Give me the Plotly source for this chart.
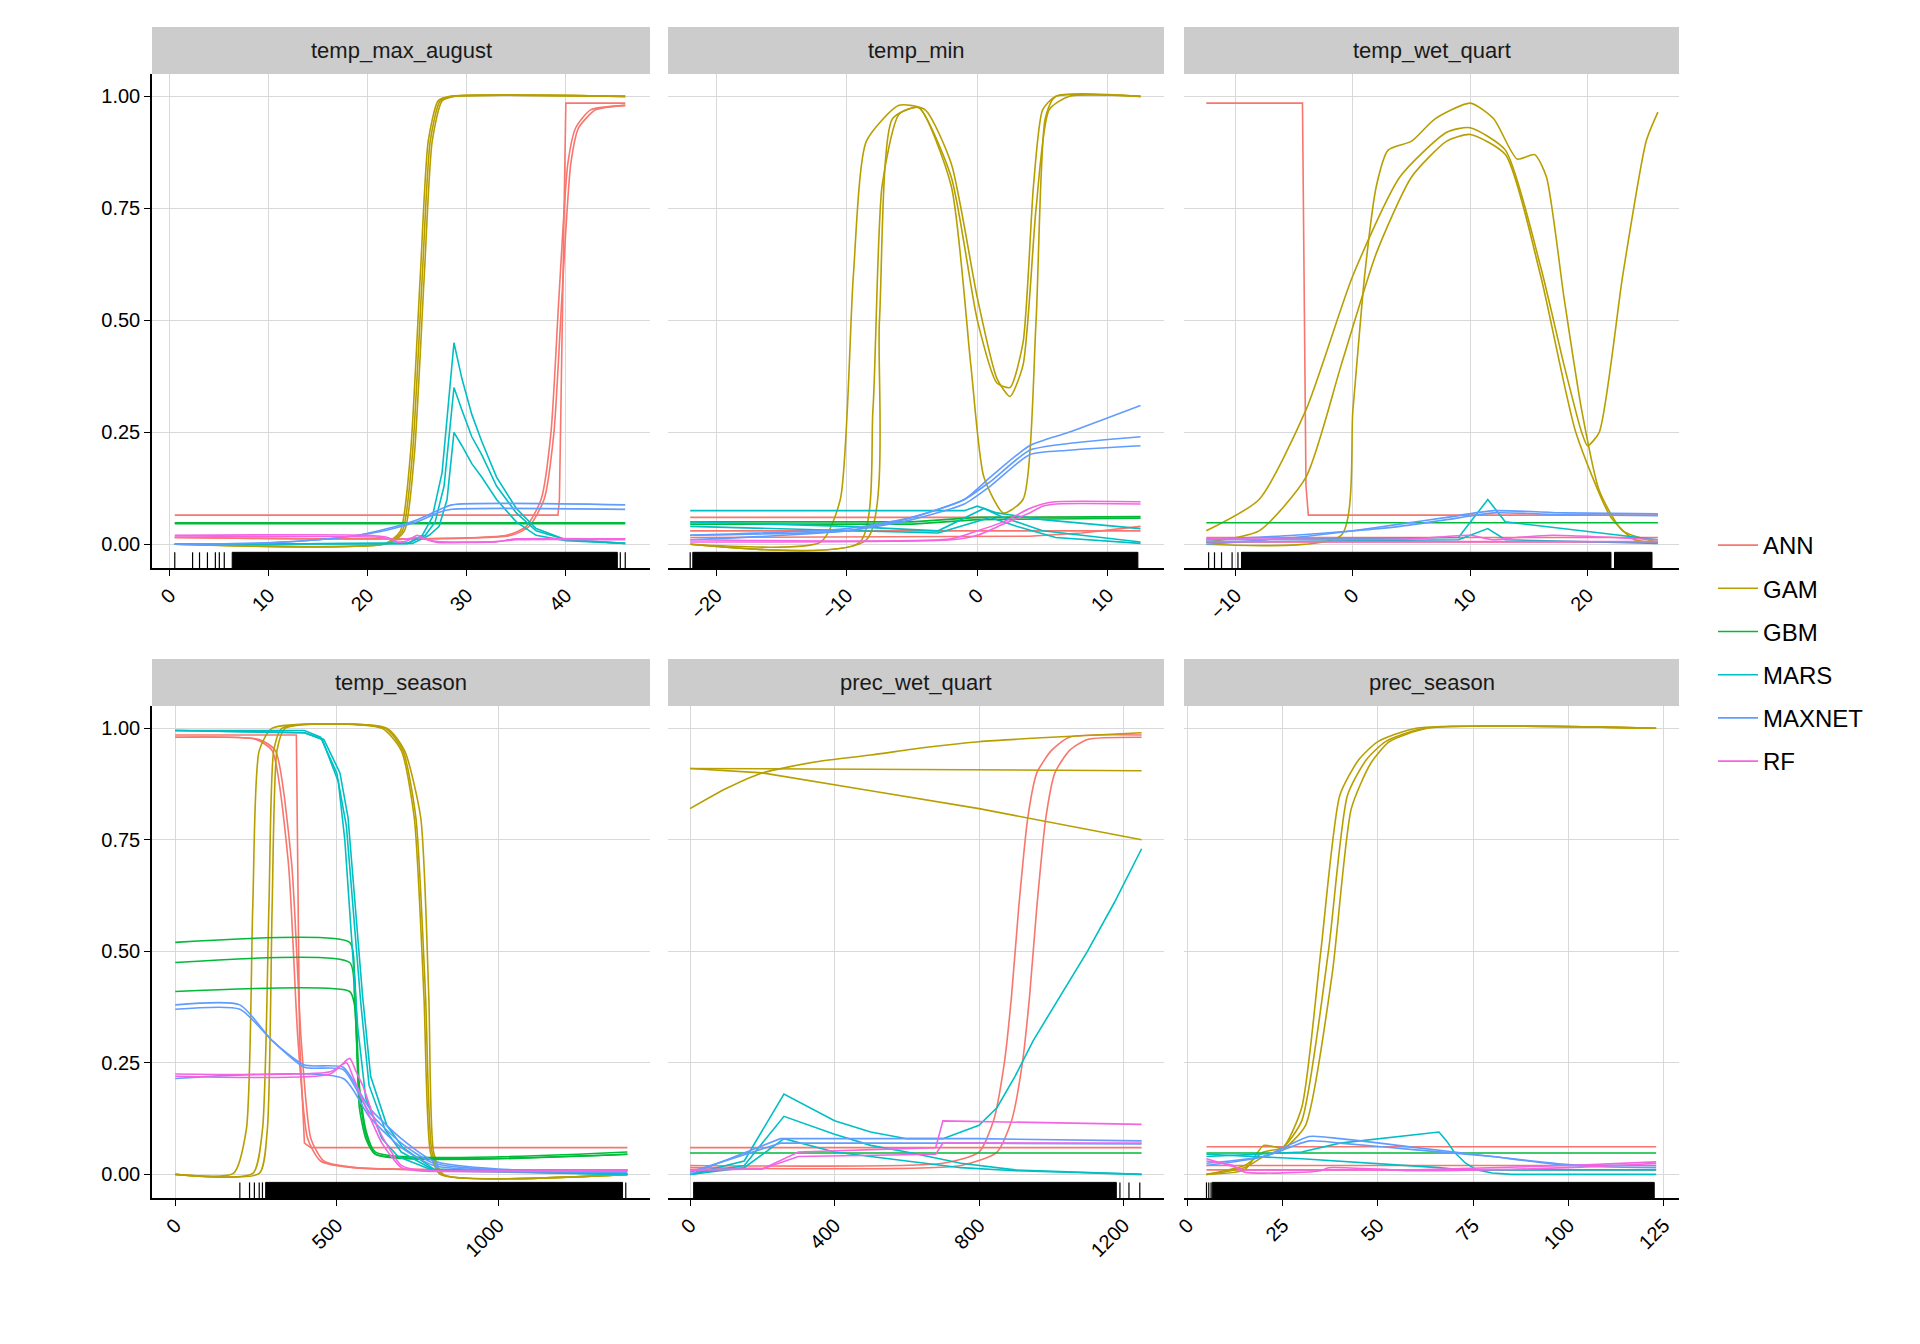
import plotly.graph_objects as go

# model colours (ggplot hue palette)
models = ["ANN", "GAM", "GBM", "MARS", "MAXNET", "RF"]
colors = ["#F8766D", "#B79F00", "#00BA38", "#00BFC4", "#619CFF", "#F564E3"]

panel_titles = ["temp_max_august", "temp_min", "temp_wet_quart",
                "temp_season", "prec_wet_quart", "prec_season"]

# each curve: (model, x, y)
temp_max_august = [
    ("ANN", [0.5, 39.2, 39.35, 40, 46], [0.065, 0.065, 0.1, 0.985, 0.985]),
    ("ANN", [0.5, 34, 36, 37.5, 38.5, 39.3, 40.2, 41, 42.5, 46], [0.015, 0.02, 0.04, 0.1, 0.25, 0.55, 0.85, 0.93, 0.97, 0.98]),
    ("ANN", [0.5, 34.5, 36.3, 37.8, 38.8, 39.6, 40.5, 41.3, 43, 46], [0.015, 0.02, 0.04, 0.1, 0.25, 0.55, 0.85, 0.93, 0.97, 0.98]),
    ("GAM", [0.5, 22, 23.5, 24.5, 25.5, 26.3, 27.3, 28.5, 46], [0, 0.002, 0.03, 0.2, 0.6, 0.9, 0.99, 1, 1]),
    ("GAM", [0.5, 22.2, 23.7, 24.7, 25.7, 26.5, 27.5, 28.7, 46], [0, 0.002, 0.03, 0.2, 0.6, 0.9, 0.99, 1, 1]),
    ("GAM", [0.5, 21.8, 23.3, 24.3, 25.3, 26.1, 27.1, 28.3, 46], [0, 0.002, 0.03, 0.2, 0.6, 0.9, 0.99, 1, 1]),
    ("GBM", [0.5, 46], [0.048, 0.048]),
    ("GBM", [0.5, 46], [0.046, 0.046]),
    ("MARS", [0.5, 24, 25.5, 26.5, 27.5, 28.7, 29.5, 30.5, 31.5, 33, 35, 37, 40, 46], [0, 0.002, 0.02, 0.06, 0.16, 0.45, 0.37, 0.29, 0.23, 0.15, 0.08, 0.035, 0.01, 0.002]),
    ("MARS", [0.5, 24, 25.8, 26.8, 27.7, 28.7, 29.5, 30.5, 31.5, 33, 35, 37, 40, 46], [0, 0.002, 0.02, 0.05, 0.13, 0.35, 0.3, 0.24, 0.2, 0.13, 0.07, 0.03, 0.01, 0.002]),
    ("MARS", [0.5, 24.5, 26.2, 27.2, 28, 28.7, 29.5, 30.5, 31.5, 33, 35, 37, 40, 46], [0, 0.002, 0.02, 0.04, 0.1, 0.25, 0.22, 0.18, 0.15, 0.1, 0.05, 0.02, 0.008, 0.002]),
    ("MAXNET", [0.5, 10, 15, 19, 22, 25, 27, 28.5, 46], [0, 0.003, 0.01, 0.02, 0.035, 0.055, 0.075, 0.088, 0.088]),
    ("MAXNET", [0.5, 10, 15, 19, 22, 25, 27, 28.5, 46], [0, 0.003, 0.01, 0.02, 0.032, 0.05, 0.07, 0.078, 0.078]),
    ("RF", [0.5, 20, 22, 23, 24, 25, 26, 27, 30, 33, 35, 46], [0.02, 0.02, 0.015, 0.005, 0.008, 0.02, 0.01, 0.004, 0.004, 0.006, 0.012, 0.012]),
    ("RF", [0.5, 21, 23, 25, 27, 33, 35, 46], [0.016, 0.016, 0.01, 0.015, 0.006, 0.006, 0.01, 0.01]),
]

temp_min = [
    ("ANN", [-22, 12.5], [0.06, 0.06]),
    ("ANN", [-22, 4, 8, 12.5], [0.015, 0.018, 0.025, 0.04]),
    ("ANN", [-22, 12.5], [0.03, 0.03]),
    ("GAM", [-22, -12, -10.5, -9.5, -8.5, -6, -4, -2, 0, 1.5, 2.5, 3.5, 4.5, 5.5, 7, 12.5],
     [0, 0.005, 0.1, 0.6, 0.9, 0.98, 0.97, 0.85, 0.55, 0.37, 0.33, 0.4, 0.75, 0.97, 1, 1]),
    ("GAM", [-22, -9, -8, -7.3, -6, -4.5, -2, 0, 1.5, 2.5, 3.5, 4.3, 5, 6, 12.5],
     [0, 0.005, 0.3, 0.8, 0.96, 0.975, 0.82, 0.5, 0.36, 0.35, 0.45, 0.8, 0.97, 1, 1]),
    ("GAM", [-22, -8.5, -7.5, -6.5, -4.5, -2, -0.5, 0.5, 2, 3.5, 4.5, 5.2, 6, 12.5],
     [0, 0.01, 0.5, 0.95, 0.975, 0.8, 0.4, 0.15, 0.07, 0.1, 0.5, 0.95, 1, 1]),
    ("GBM", [-22, -5, 0, 12.5], [0.05, 0.05, 0.06, 0.062]),
    ("GBM", [-22, -5, 0, 12.5], [0.045, 0.045, 0.055, 0.058]),
    ("MARS", [-22, -1, 0, 1.5, 5, 12.5], [0.075, 0.075, 0.085, 0.07, 0.055, 0.035]),
    ("MARS", [-22, -10, -3, 0.5, 2, 5, 12.5], [0.05, 0.04, 0.03, 0.08, 0.06, 0.03, 0.005]),
    ("MARS", [-22, -10, -3, 1, 3, 6, 12.5], [0.04, 0.03, 0.025, 0.06, 0.04, 0.015, 0.002]),
    ("MAXNET", [-22, -10, -5, -1, 1, 4, 7, 12.5], [0.01, 0.03, 0.06, 0.1, 0.15, 0.22, 0.25, 0.31]),
    ("MAXNET", [-22, -10, -5, -1, 1, 4, 7, 12.5], [0.02, 0.035, 0.06, 0.1, 0.14, 0.21, 0.225, 0.24]),
    ("MAXNET", [-22, -10, -5, -1, 1, 4, 7, 12.5], [0.02, 0.03, 0.055, 0.09, 0.13, 0.2, 0.21, 0.22]),
    ("RF", [-22, -2, 0, 2, 4, 5, 6, 12.5], [0.01, 0.012, 0.03, 0.05, 0.08, 0.09, 0.095, 0.095]),
    ("RF", [-22, -2, 0, 2, 4, 5, 6, 12.5], [0.005, 0.01, 0.02, 0.045, 0.07, 0.085, 0.09, 0.09]),
]

temp_wet_quart = [
    ("ANN", [-12.5, -4.3, -4.0, -3.8, 26], [0.985, 0.985, 0.13, 0.065, 0.065]),
    ("ANN", [-12.5, 26], [0.015, 0.015]),
    ("ANN", [-12.5, 26], [0.005, 0.005]),
    ("GAM", [-12.5, -8, -4, 0, 4, 8, 10, 13, 16, 18, 19.5, 20, 21, 23, 25, 26],
     [0.03, 0.1, 0.3, 0.6, 0.82, 0.92, 0.93, 0.88, 0.62, 0.4, 0.25, 0.22, 0.25, 0.6, 0.9, 0.965]),
    ("GAM", [-12.5, -8, -4, -1, 2, 5, 8, 10, 13, 16, 19, 22, 24, 26],
     [0.005, 0.03, 0.15, 0.4, 0.65, 0.82, 0.9, 0.915, 0.87, 0.6, 0.25, 0.06, 0.01, 0.005]),
    ("GAM", [-12.5, -1, 0, 1, 2, 3, 5, 7, 10, 12, 14, 15.5, 16.5, 18, 19.5, 21, 23, 26],
     [0, 0.02, 0.3, 0.6, 0.8, 0.88, 0.9, 0.95, 0.985, 0.95, 0.86, 0.87, 0.82, 0.55, 0.3, 0.12, 0.03, 0.005]),
    ("GBM", [-12.5, 26], [0.048, 0.048]),
    ("MARS", [-12.5, 9, 11.5, 13, 26], [0.01, 0.015, 0.1, 0.05, 0.01]),
    ("MARS", [-12.5, 9, 11.5, 13, 26], [0.005, 0.01, 0.035, 0.01, 0.002]),
    ("MAXNET", [-12.5, -5, 0, 4, 8, 12, 18, 26], [0.0, 0.015, 0.03, 0.045, 0.06, 0.075, 0.07, 0.068]),
    ("MAXNET", [-12.5, -5, 0, 4, 8, 12, 18, 26], [0.01, 0.02, 0.03, 0.04, 0.055, 0.07, 0.066, 0.064]),
    ("RF", [-12.5, 5, 10, 12, 14, 17, 26], [0.012, 0.012, 0.02, 0.01, 0.015, 0.02, 0.01]),
    ("RF", [-12.5, 26], [0.006, 0.006]),
]

temp_season = [
    ("ANN", [0, 375, 385, 400, 420, 1400], [0.985, 0.985, 0.3, 0.07, 0.06, 0.06]),
    ("ANN", [0, 250, 300, 350, 380, 410, 450, 550, 1400], [0.98, 0.975, 0.95, 0.7, 0.3, 0.08, 0.03, 0.015, 0.01]),
    ("ANN", [0, 260, 310, 360, 390, 420, 460, 560, 1400], [0.98, 0.975, 0.95, 0.7, 0.3, 0.08, 0.03, 0.015, 0.01]),
    ("GAM", [0, 180, 220, 240, 260, 300, 640, 700, 740, 770, 790, 820, 1400], [0, 0.002, 0.1, 0.6, 0.95, 1, 1, 0.95, 0.8, 0.4, 0.05, 0, 0]),
    ("GAM", [0, 240, 270, 290, 305, 330, 650, 705, 745, 775, 795, 825, 1400], [0, 0.002, 0.1, 0.6, 0.95, 1, 1, 0.95, 0.8, 0.4, 0.05, 0, 0]),
    ("GAM", [0, 260, 285, 300, 315, 340, 655, 710, 760, 785, 800, 830, 1400], [0, 0.002, 0.1, 0.6, 0.95, 1, 1, 0.95, 0.8, 0.4, 0.05, 0, 0]),
    ("GBM", [0, 540, 555, 570, 590, 620, 1400], [0.52, 0.52, 0.45, 0.2, 0.1, 0.05, 0.05]),
    ("GBM", [0, 540, 555, 570, 590, 620, 1400], [0.475, 0.475, 0.4, 0.18, 0.09, 0.045, 0.045]),
    ("GBM", [0, 540, 555, 570, 590, 620, 1400], [0.41, 0.41, 0.38, 0.15, 0.08, 0.045, 0.045]),
    ("MARS", [0, 400, 450, 500, 530, 550, 575, 600, 650, 700, 800, 1400], [0.995, 0.995, 0.98, 0.9, 0.78, 0.6, 0.38, 0.2, 0.1, 0.05, 0.01, 0]),
    ("MARS", [0, 400, 460, 510, 535, 555, 580, 605, 655, 705, 800, 1400], [0.995, 0.99, 0.975, 0.9, 0.8, 0.62, 0.4, 0.22, 0.11, 0.06, 0.012, 0]),
    ("MARS", [0, 400, 455, 505, 525, 545, 565, 590, 640, 690, 800, 1400], [0.995, 0.99, 0.975, 0.88, 0.75, 0.55, 0.33, 0.17, 0.08, 0.04, 0.008, 0]),
    ("MAXNET", [0, 200, 300, 400, 520, 600, 700, 800, 1000, 1400], [0.38, 0.38, 0.3, 0.245, 0.24, 0.15, 0.08, 0.03, 0.012, 0.01]),
    ("MAXNET", [0, 200, 300, 400, 520, 600, 700, 800, 1000, 1400], [0.37, 0.37, 0.3, 0.24, 0.235, 0.14, 0.07, 0.025, 0.01, 0.008]),
    ("MAXNET", [0, 520, 600, 700, 800, 1000, 1400], [0.215, 0.215, 0.13, 0.06, 0.02, 0.008, 0.005]),
    ("RF", [0, 480, 540, 560, 580, 630, 700, 750, 1400], [0.22, 0.225, 0.26, 0.23, 0.2, 0.1, 0.02, 0.01, 0.01]),
    ("RF", [0, 480, 530, 550, 590, 640, 700, 750, 1400], [0.225, 0.23, 0.25, 0.22, 0.15, 0.07, 0.015, 0.008, 0.008]),
]

prec_wet_quart = [
    ("ANN", [0, 1250], [0.06, 0.06]),
    ("ANN", [0, 700, 800, 840, 870, 890, 910, 935, 960, 1000, 1050, 1250], [0.02, 0.025, 0.05, 0.12, 0.25, 0.4, 0.6, 0.8, 0.9, 0.95, 0.98, 0.985]),
    ("ANN", [0, 750, 850, 890, 920, 940, 960, 985, 1010, 1050, 1100, 1250], [0.015, 0.02, 0.05, 0.12, 0.25, 0.4, 0.6, 0.8, 0.9, 0.95, 0.975, 0.98]),
    ("GAM", [0, 100, 200, 350, 500, 650, 800, 1000, 1250], [0.82, 0.865, 0.9, 0.925, 0.94, 0.957, 0.97, 0.98, 0.99]),
    ("GAM", [0, 1250], [0.91, 0.905]),
    ("GAM", [0, 200, 500, 800, 1250], [0.91, 0.9, 0.86, 0.82, 0.75]),
    ("GBM", [0, 1250], [0.048, 0.048]),
    ("MARS", [0, 150, 260, 330, 400, 500, 600, 700, 800, 850, 900, 950, 1025, 1100, 1175, 1250], [0, 0.03, 0.18, 0.15, 0.12, 0.095, 0.08, 0.08, 0.11, 0.15, 0.22, 0.3, 0.4, 0.5, 0.61, 0.73]),
    ("MARS", [0, 150, 260, 330, 400, 500, 600, 750, 900, 1250], [0, 0.02, 0.13, 0.11, 0.09, 0.065, 0.05, 0.025, 0.01, 0]),
    ("MARS", [0, 150, 260, 330, 400, 500, 600, 750, 900, 1250], [0, 0.015, 0.08, 0.065, 0.05, 0.04, 0.03, 0.015, 0.008, 0]),
    ("MAXNET", [0, 250, 800, 1250], [0, 0.08, 0.08, 0.075]),
    ("MAXNET", [0, 250, 800, 1250], [0.005, 0.07, 0.07, 0.068]),
    ("RF", [0, 200, 300, 680, 700, 1250], [0.01, 0.012, 0.05, 0.06, 0.12, 0.112]),
    ("RF", [0, 200, 300, 680, 700, 1250], [0.01, 0.012, 0.04, 0.045, 0.07, 0.07]),
]

prec_season = [
    ("ANN", [5, 123], [0.062, 0.062]),
    ("ANN", [5, 123], [0.02, 0.02]),
    ("ANN", [5, 123], [0.01, 0.01]),
    ("GAM", [5, 15, 20, 25, 30, 35, 40, 45, 50, 60, 123], [0, 0.01, 0.065, 0.06, 0.15, 0.5, 0.85, 0.93, 0.97, 1, 1]),
    ("GAM", [5, 15, 20, 25, 30, 37, 42, 47, 52, 62, 123], [0, 0.02, 0.05, 0.06, 0.12, 0.5, 0.85, 0.93, 0.97, 1, 1]),
    ("GAM", [5, 15, 20, 25, 31, 38, 43, 48, 53, 63, 123], [0, 0.015, 0.04, 0.055, 0.11, 0.45, 0.82, 0.92, 0.97, 1, 1]),
    ("GBM", [5, 123], [0.048, 0.048]),
    ("MARS", [5, 30, 40, 66, 68, 70, 73, 76, 80, 85, 123], [0.04, 0.05, 0.07, 0.095, 0.075, 0.05, 0.025, 0.01, 0.003, 0, 0]),
    ("MARS", [5, 30, 66, 72, 123], [0.045, 0.035, 0.015, 0.01, 0.01]),
    ("MAXNET", [5, 20, 32, 40, 60, 80, 100, 123], [0.02, 0.04, 0.085, 0.08, 0.06, 0.04, 0.02, 0.015]),
    ("MAXNET", [5, 20, 32, 40, 60, 80, 100, 123], [0.025, 0.04, 0.075, 0.07, 0.055, 0.04, 0.022, 0.02]),
    ("RF", [5, 12, 15, 35, 37, 60, 100, 123], [0.03, 0.02, 0.005, 0.008, 0.015, 0.008, 0.015, 0.025]),
    ("RF", [5, 15, 60, 100, 123], [0.035, 0.01, 0.01, 0.02, 0.028]),
]

# rug: isolated observations plus spans where observations are continuous
rug_ticks = [
    [0.5, 2.3, 3.0, 3.8, 4.6, 5.0, 5.5, 45.5, 46.0],
    [-22.0],
    [-12.3, -11.8, -11.2, -10.3, -9.8],
    [200, 230, 245, 260, 270, 1395],
    [1190, 1215, 1245],
    [5.0, 5.6, 6.2],
]
rug_spans = [
    [(6.3, 45.2)],
    [(-21.8, 12.3)],
    [(-9.5, 22.0), (22.3, 25.5)],
    [(280, 1385)],
    [(10, 1180)],
    [(6.5, 122.5)],
]

panels = [temp_max_august, temp_min, temp_wet_quart, temp_season, prec_wet_quart, prec_season]
x_ranges = [[-1.8, 48.5], [-23.7, 14.3], [-14.4, 27.8], [-72, 1470], [-61, 1312], [-0.9, 129]]
x_ticks = [[0, 10, 20, 30, 40], [-20, -10, 0, 10], [-10, 0, 10, 20],
           [0, 500, 1000], [0, 400, 800, 1200], [0, 25, 50, 75, 100, 125]]
y_ticks = [0, 0.25, 0.5, 0.75, 1.0]
y_labels = ["0.00", "0.25", "0.50", "0.75", "1.00"]
Y_RANGE = [-0.053, 1.05]

W, H = 1920, 1344
col_px = [(144, 642), (660, 1156), (1176, 1671)]
row_px = [(66, 560), (698, 1190)]
strip_h = 47

fig = go.Figure()
color_of = dict(zip(models, colors))
FONT = "Liberation Sans, Arial, sans-serif"

for i, curves in enumerate(panels):
    r, c = divmod(i, 3)
    ax = "" if i == 0 else str(i + 1)
    xa, ya = "x" + ax, "y" + ax
    for model, xs, ys in curves:
        smooth = model != "MARS" and len(xs) > 6
        fig.add_trace(go.Scatter(x=xs, y=ys, mode="lines", xaxis=xa, yaxis=ya,
                                 line=dict(color=color_of[model], width=1.6,
                                           shape="spline" if smooth else "linear",
                                           smoothing=0.6 if smooth else None),
                                 showlegend=False, hoverinfo="skip"))
    # rug
    rx, ry = [], []
    for v in rug_ticks[i]:
        rx += [v, v, None]
        ry += [-0.053, -0.018, None]
    fig.add_trace(go.Scatter(x=rx, y=ry, mode="lines", xaxis=xa, yaxis=ya,
                             line=dict(color="black", width=1.2), showlegend=False, hoverinfo="skip"))
    for a, b in rug_spans[i]:
        fig.add_trace(go.Scatter(x=[a, b, b, a, a], y=[-0.053, -0.053, -0.018, -0.018, -0.053],
                                 mode="lines", fill="toself", fillcolor="black", xaxis=xa, yaxis=ya,
                                 line=dict(color="black", width=1), showlegend=False, hoverinfo="skip"))

    x0, x1 = col_px[c]
    t, b = row_px[r]
    fig.layout["xaxis" + ax] = dict(
        domain=[x0 / W, x1 / W], anchor=ya, range=x_ranges[i], tickvals=x_ticks[i],
        tickangle=-45, showgrid=True, gridcolor="#D9D9D9", gridwidth=1.3, zeroline=False,
        showline=True, linecolor="black", linewidth=1.5, ticks="outside", ticklen=6,
        tickcolor="black", automargin=False,
        tickfont=dict(size=20, color="black", family=FONT))
    fig.layout["yaxis" + ax] = dict(
        domain=[1 - b / H, 1 - t / H], anchor=xa, range=Y_RANGE, tickvals=y_ticks,
        ticktext=y_labels, showticklabels=(c == 0), showgrid=True, gridcolor="#D9D9D9",
        gridwidth=1.3, zeroline=False, showline=(c == 0), linecolor="black", linewidth=1.5,
        ticks="outside" if c == 0 else "", ticklen=6, tickcolor="black", automargin=False,
        tickfont=dict(size=20, color="black", family=FONT))
    # facet strip
    fig.add_shape(type="rect", xref="paper", yref="paper", x0=x0 / W, x1=x1 / W,
                  y0=1 - t / H, y1=1 - (t - strip_h) / H, fillcolor="#CCCCCC", line_width=0, layer="below")
    fig.add_annotation(x=(x0 + x1) / 2 / W, y=1 - (t - strip_h / 2) / H, xref="paper", yref="paper",
                       xanchor="center", yanchor="middle",
                       text=panel_titles[i], showarrow=False,
                       font=dict(size=22, color="#1A1A1A", family=FONT))

# legend entries
for m, col in zip(models, colors):
    fig.add_trace(go.Scatter(x=[None], y=[None], mode="lines", name=m, legendgroup=m,
                             line=dict(color=col, width=1.6)))

fig.update_layout(
    width=W, height=H, plot_bgcolor="white", paper_bgcolor="white",
    margin=dict(l=0, r=0, t=0, b=0, autoexpand=False),
    legend=dict(x=1705 / W, y=1 - 515 / H, xanchor="left", yanchor="top",
                font=dict(size=24, color="black", family=FONT), tracegroupgap=9,
                itemwidth=40, bgcolor="rgba(0,0,0,0)"),
)

fig.write_html("out.html")
